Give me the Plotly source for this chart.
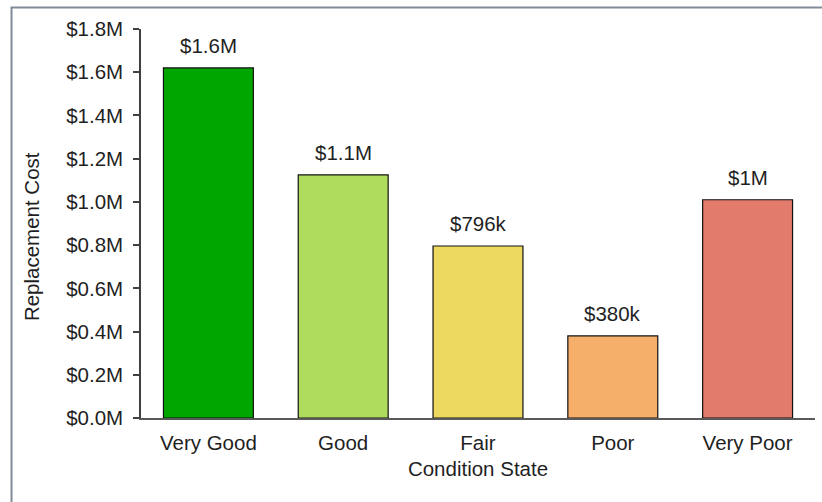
import plotly.graph_objects as go

# Replacement cost by asset condition state
conditions = ["Very Good", "Good", "Fair", "Poor", "Very Poor"]
replacement_cost = [1620000, 1125000, 796000, 380000, 1010000]
bar_colors = ["#00A600", "#B0DC5E", "#EDD860", "#F6AE6B", "#E27B6B"]
y_ticks = [0, 200000, 400000, 600000, 800000, 1000000, 1200000, 1400000, 1600000, 1800000]


def money_label(v):
    if v >= 1e6:
        s = f"{v / 1e6:.1f}".rstrip("0").rstrip(".")
        return f"${s}M"
    return f"${round(v / 1e3)}k"


font_family = "Liberation Sans, Arial, sans-serif"
text_color = "#1f1f1f"
fs = 20.5

fig = go.Figure(
    go.Bar(
        x=conditions,
        y=replacement_cost,
        marker=dict(color=bar_colors, line=dict(color="#111111", width=1.2)),
        cliponaxis=False,
    )
)

# value labels above each bar
for cat, val in zip(conditions, replacement_cost):
    fig.add_annotation(
        x=cat, y=val, text=money_label(val),
        showarrow=False, yanchor="bottom", yshift=9,
        font=dict(family=font_family, size=fs, color=text_color),
    )

# y-axis title, set slightly below the axis midpoint
fig.add_annotation(
    xref="paper", yref="paper", x=-0.1632, y=0.465,
    text="Replacement Cost", textangle=-90, showarrow=False,
    xanchor="center", yanchor="middle",
    font=dict(family=font_family, size=fs, color=text_color),
)

fig.update_layout(
    width=822,
    height=502,
    margin=dict(l=141, r=7, t=29, b=84),
    paper_bgcolor="white",
    plot_bgcolor="white",
    bargap=0.333,
    showlegend=False,
    font=dict(family=font_family, size=fs, color=text_color),
    xaxis=dict(
        showline=True,
        linecolor="#595959",
        linewidth=1.5,
        ticks="",
        ticklabelstandoff=6,
        tickfont=dict(size=fs),
        title=dict(text="Condition State", font=dict(size=fs), standoff=8),
        showgrid=False,
    ),
    yaxis=dict(
        range=[0, 1800000],
        tickvals=y_ticks,
        ticktext=[f"${v / 1e6:.1f}M" for v in y_ticks],
        showline=True,
        linecolor="#404040",
        linewidth=1.5,
        ticks="outside",
        ticklen=6,
        tickcolor="#404040",
        tickwidth=1.5,
        ticklabelstandoff=6,
        tickfont=dict(size=fs),
        showgrid=False,
        zeroline=False,
    ),
    shapes=[
        dict(
            type="rect",
            xref="paper",
            yref="paper",
            x0=-0.1921,
            x1=1.2,
            y0=-0.4,
            y1=1.0553,
            line=dict(color="#7F8B98", width=2),
            fillcolor="rgba(0,0,0,0)",
            layer="below",
        )
    ],
)

fig.write_html("out.html")
